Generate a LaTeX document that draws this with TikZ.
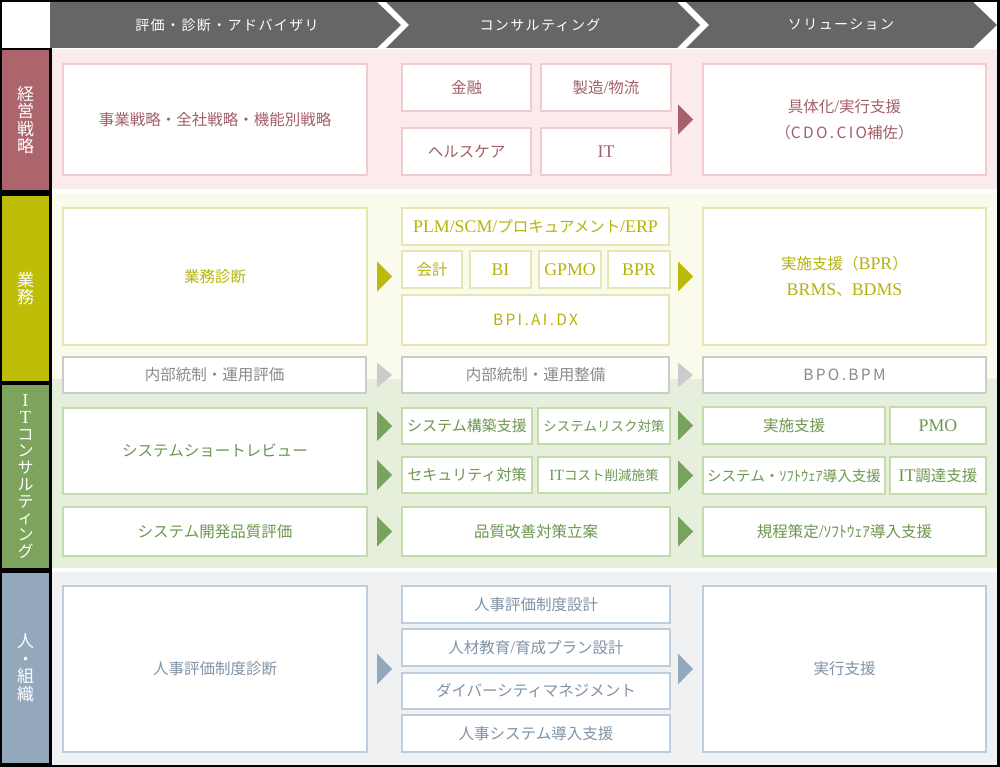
\documentclass[tikz,border=0pt]{standalone}
\usepackage{fontspec}
\setmainfont{Noto Sans CJK JP}
\newfontfamily\latfont[Scale=1.15]{Liberation Serif}
\newfontfamily\widefont[LetterSpace=15]{Noto Sans CJK JP}
\newfontfamily\hdfont[LetterSpace=10]{Noto Sans CJK JP}
\usetikzlibrary{calc}
\newcommand\ltn[1]{{\latfont #1}}
\definecolor{hdr}{HTML}{666666}
\definecolor{pkL}{HTML}{AC656C}
\definecolor{pkBg}{HTML}{FCEBED}
\definecolor{pkB}{HTML}{F3CBCF}
\definecolor{pkT}{HTML}{A35F68}
\definecolor{pkA}{HTML}{A8606A}
\definecolor{ylL}{HTML}{BEBE08}
\definecolor{ylBg}{HTML}{FAFBED}
\definecolor{ylB}{HTML}{E6E6B2}
\definecolor{ylT}{HTML}{B4B40A}
\definecolor{ylA}{HTML}{BABA0A}
\definecolor{gyB}{HTML}{CCCCCC}
\definecolor{gyT}{HTML}{8A8A8A}
\definecolor{gyA}{HTML}{CCCCCC}
\definecolor{gnL}{HTML}{7DA45C}
\definecolor{gnBg}{HTML}{E6EFDC}
\definecolor{gnB}{HTML}{C3DBAD}
\definecolor{gnT}{HTML}{6E9650}
\definecolor{gnA}{HTML}{78A35C}
\definecolor{blL}{HTML}{94A8BC}
\definecolor{blBg}{HTML}{EFF1F3}
\definecolor{blB}{HTML}{BECDDC}
\definecolor{blT}{HTML}{8093A6}
\definecolor{blA}{HTML}{94A8BC}
\tikzset{
  bx/.style={line width=2pt, fill=white, inner sep=0pt, align=center, font=\fontsize{15.5}{26}\selectfont},
  pk/.style={bx, draw=pkB, text=pkT},
  yl/.style={bx, draw=ylB, text=ylT},
  gy/.style={bx, draw=gyB, text=gyT},
  gn/.style={bx, draw=gnB, text=gnT},
  bl/.style={bx, draw=blB, text=blT},
  lab/.style={inner sep=0pt, text=white, align=center, minimum width=47pt, font=\fontsize{17}{17.5}\selectfont},
  hd/.style={text=white, inner sep=0pt, font=\fontsize{14}{16}\hdfont}
}
\newcommand\bx[7]{%
  \pgfmathsetmacro\bxcx{(#3+#5)/2}%
  \pgfmathsetmacro\bxcy{(#4+#6)/2}%
  \pgfmathsetmacro\bxw{#5-#3-2}%
  \pgfmathsetmacro\bxh{#6-#4-2}%
  \node[#2, minimum width=\bxw pt, minimum height=\bxh pt] (#1) at (\bxcx,\bxcy) {#7};}
\newcommand\tri[4]{\fill[#1] ($(#2.west |- #3.center)+(-9,0)$) -- ++(-15,-#4) -- ++(0,2*#4) -- cycle;}
\begin{document}
\begin{tikzpicture}[x=1pt,y=-1pt]
\useasboundingbox (0,0) rectangle (1000,767);
\fill[black] (0,0) rectangle (1000,767);
\fill[white] (2,2) rectangle (997,765);
% bands
\fill[pkBg] (52,49) rectangle (997,189);
\fill[ylBg] (52,193) rectangle (997,379);
\fill[gnBg] (52,379) rectangle (997,568);
\fill[blBg] (52,572) rectangle (997,765);
% header
\fill[hdr] (50,2) -- (377,2) -- (401,25) -- (377,48) -- (50,48) -- cycle;
\fill[hdr] (386,2) -- (677,2) -- (700,25) -- (677,48) -- (386,48) -- (409,25) -- cycle;
\fill[hdr] (686,2) -- (973,2) -- (997,25) -- (973,48) -- (686,48) -- (709,25) -- cycle;
\node[hd] (h1) at (227,25) {評価・診断・アドバイザリ};
\node[hd] (h2) at (540,25) {コンサルティング};
\node[hd] (h3) at (841,25) {ソリューション};
% label column
\fill[black] (0,48) rectangle (52,767);
\node[lab, fill=pkL, minimum height=140pt] (L1) at (25.5,120) {経\\営\\戦\\略};
\node[lab, fill=ylL, minimum height=185pt] (L2) at (25.5,288.5) {業\\務};
\node[lab, fill=gnL, minimum height=183pt, font=\fontsize{16}{16.7}\selectfont] (L3) at (25.5,476.5) {\ltn{I}\\\ltn{T}\\コ\\ン\\サ\\ル\\テ\\ィ\\ン\\グ};
\node[lab, fill=blL, minimum height=190pt] (L4) at (25.5,668) {人\\・\\組\\織};
% row 1
\bx{r1a}{pk}{62}{63}{368}{176}{事業戦略・全社戦略・機能別戦略}
\bx{r1b1}{pk}{401}{63}{532}{112}{金融}
\bx{r1b2}{pk}{540}{63}{672}{112}{製造\ltn{/}物流}
\bx{r1b3}{pk}{401}{127}{532}{176}{ヘルスケア}
\bx{r1b4}{pk}{540}{127}{672}{176}{\ltn{IT}}
\bx{r1c}{pk}{702}{63}{987}{176}{具体化\ltn{/}実行支援\\（{\widefont CDO.CIO}補佐）}
\tri{pkA}{r1c}{r1c}{15}
% row 2
\bx{r2a}{yl}{62}{207}{368}{346}{業務診断}
\bx{r2b}{yl}{401}{207}{670}{246}{\ltn{PLM/SCM/}プロキュアメント\ltn{/ERP}}
\bx{r2c1}{yl}{401}{250}{463}{289}{会計}
\bx{r2c2}{yl}{469}{250}{532}{289}{\ltn{BI}}
\bx{r2c3}{yl}{538}{250}{602}{289}{\ltn{GPMO}}
\bx{r2c4}{yl}{607}{250}{671}{289}{\ltn{BPR}}
\bx{r2d}{yl}{401}{294}{670}{346}{{\widefont BPI.AI.DX}}
\bx{r2e}{yl}{702}{207}{987}{346}{実施支援（\ltn{BPR}）\\ \ltn{BRMS}、\ltn{BDMS}}
\tri{ylA}{r2b}{r2a}{15}
\tri{ylA}{r2e}{r2e}{15}
% internal control
\bx{r3a}{gy}{62}{356}{367}{394}{内部統制・運用評価}
\bx{r3b}{gy}{401}{356}{670}{394}{内部統制・運用整備}
\bx{r3c}{gy}{702}{356}{987}{394}{{\widefont BPO.BPM}}
\tri{gyA}{r3b}{r3b}{12.5}
\tri{gyA}{r3c}{r3c}{12.5}
% IT consulting
\bx{g1}{gn}{62}{407}{368}{495}{システムショートレビュー}
\bx{g2}{gn}{62}{506}{368}{557}{システム開発品質評価}
\bx{g3}{gn,font=\fontsize{15}{18}\selectfont}{401}{407}{533}{445}{システム構築支援}
\bx{g4}{gn,font=\fontsize{13.5}{16}\selectfont}{537}{407}{671}{445}{システムリスク対策}
\bx{g5}{gn,font=\fontsize{15}{18}\selectfont}{401}{456}{533}{494}{セキュリティ対策}
\bx{g6}{gn,font=\fontsize{13.5}{16}\selectfont}{537}{456}{671}{494}{\ltn{IT}コスト削減施策}
\bx{g7}{gn}{401}{506}{671}{557}{品質改善対策立案}
\bx{g8}{gn}{702}{406}{886}{445}{実施支援}
\bx{g9}{gn}{889}{406}{987}{445}{\ltn{PMO}}
\bx{g10}{gn,font=\fontsize{14.5}{17}\selectfont}{702}{456}{886}{495}{システム・ｿﾌﾄｳｪｱ導入支援}
\bx{g11}{gn}{889}{456}{987}{495}{\ltn{IT}調達支援}
\bx{g12}{gn}{702}{506}{987}{557}{規程策定\ltn{/}ｿﾌﾄｳｪｱ導入支援}
\tri{gnA}{g3}{g3}{15}
\tri{gnA}{g5}{g5}{15}
\tri{gnA}{g7}{g7}{15}
\tri{gnA}{g8}{g8}{15}
\tri{gnA}{g10}{g10}{15}
\tri{gnA}{g12}{g12}{15}
% people
\bx{b1}{bl}{62}{585}{368}{753}{人事評価制度診断}
\bx{b2}{bl}{401}{585}{671}{624}{人事評価制度設計}
\bx{b3}{bl}{401}{628}{671}{667}{人材教育\ltn{/}育成プラン設計}
\bx{b4}{bl}{401}{672}{671}{710}{ダイバーシティマネジメント}
\bx{b5}{bl}{401}{714}{671}{753}{人事システム導入支援}
\bx{b6}{bl}{702}{585}{987}{753}{実行支援}
\tri{blA}{b2}{b1}{15.5}
\tri{blA}{b6}{b6}{15.5}
\end{tikzpicture}
\end{document}
